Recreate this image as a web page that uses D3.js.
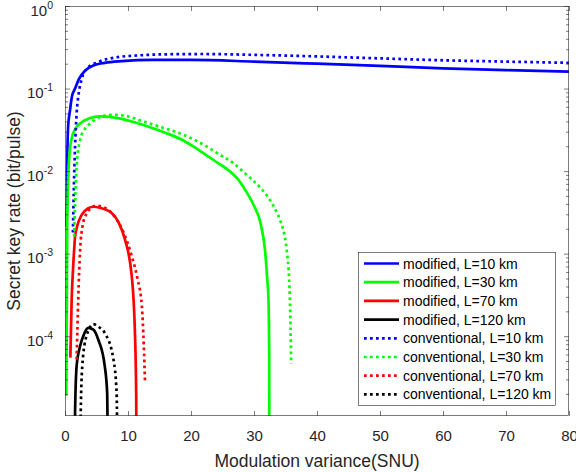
<!DOCTYPE html>
<html>
<head>
<meta charset="utf-8">
<script src="https://cdn.jsdelivr.net/npm/d3@7"></script>
<style>
  body { margin: 0; background: #fff; }
  svg { display: block; }
  text { font-family: "Liberation Sans", Arial, Helvetica, sans-serif; }
</style>
</head>
<body>
<svg id="chart" width="576" height="472"></svg>
<script>
// Secret key rate vs. modulation variance, modified and conventional schemes.
// Values in bit/pulse; each curve is a list of (variance, rate) points.
const varMod10  = [0.27, 0.35, 0.5, 0.8, 1.1, 1.6, 2.2, 3.2, 4.5, 6.3, 9, 14, 20, 30, 40, 50, 60, 70, 80];
const rateMod10 = [2.1e-3, 0.012, 0.035, 0.055, 0.08, 0.1, 0.13, 0.165, 0.19, 0.205, 0.215, 0.222, 0.222, 0.212, 0.2, 0.188, 0.176, 0.167, 0.16];

const varMod30  = [0.2, 0.28, 0.35, 0.45, 0.6, 0.8, 1.06, 1.6, 2.65, 4, 5.5, 7, 9, 11, 13.5, 16, 18.8, 21, 24.1, 26.2, 27.3, 28.8, 30, 31, 31.75, 32.1, 32.3, 32.42, 32.45];
const rateMod30 = [1.9e-5, 2e-4, 2e-3, 6e-3, 0.012, 0.019, 0.025, 0.032, 0.039, 0.044, 0.046, 0.0455, 0.043, 0.039, 0.034, 0.029, 0.0235, 0.0185, 0.0128, 0.0099, 0.0082, 0.0056, 0.0038, 0.0024, 0.0011, 5e-4, 2.8e-4, 5e-5, 1e-6];

const varMod70  = [0.85, 1.06, 1.3, 1.6, 1.9, 2.65, 3.7, 4.5, 5.5, 7.4, 8.5, 9.5, 10.6, 11.1, 11.3, 11.4];
const rateMod70 = [5.5e-5, 2.8e-4, 7e-4, 1.6e-3, 2.1e-3, 2.95e-3, 3.55e-3, 3.7e-3, 3.6e-3, 3.1e-3, 2.4e-3, 1.5e-3, 5.3e-4, 1.1e-4, 2e-5, 1e-6];

const varMod120  = [1.55, 1.6, 1.85, 2.4, 3, 3.7, 4.5, 5.3, 6.3, 6.7, 6.9];
const rateMod120 = [1e-6, 1.2e-5, 4.4e-5, 7.6e-5, 1.05e-4, 1.26e-4, 1.2e-4, 9e-5, 4.4e-5, 2e-5, 1e-6];

const varConv10  = [1.25, 1.4, 1.6, 1.85, 2.2, 2.65, 3.5, 5.3, 8, 11.6, 16, 22, 30, 40, 50, 60, 70, 80];
const rateConv10 = [1.8e-3, 6e-3, 0.02, 0.05, 0.09, 0.13, 0.175, 0.21, 0.238, 0.252, 0.26, 0.262, 0.256, 0.245, 0.232, 0.22, 0.212, 0.205];

const varConv30  = [1.45, 1.6, 1.85, 2.4, 3, 3.7, 5, 6.3, 8, 10, 12, 14.3, 18.8, 22.2, 24.1, 26.7, 28.5, 31, 32.5, 33.5, 34.1, 35.2, 35.7, 35.9];
const rateConv30 = [1.6e-3, 4e-3, 0.0115, 0.024, 0.031, 0.036, 0.043, 0.047, 0.048, 0.046, 0.041, 0.036, 0.0275, 0.0205, 0.0166, 0.0125, 0.0095, 0.0063, 0.0045, 0.0033, 0.0026, 0.0011, 2.8e-4, 4.6e-5];

const varConv70  = [1.85, 2.1, 2.4, 2.8, 3.2, 4, 5, 6.3, 7.9, 9.3, 10.6, 11.5, 12.2, 12.5, 12.7];
const rateConv70 = [5.2e-5, 2.8e-4, 1.1e-3, 2.2e-3, 2.8e-3, 3.5e-3, 3.8e-3, 3.6e-3, 2.8e-3, 1.8e-3, 9.3e-4, 5e-4, 2.3e-4, 8e-5, 2.75e-5];

const varConv120  = [2.45, 2.5, 2.75, 3.4, 4.5, 5.3, 6.3, 7.7, 8.2, 8.35];
const rateConv120 = [1e-6, 1.2e-5, 4.4e-5, 1e-4, 1.4e-4, 1.3e-4, 1.1e-4, 5.2e-5, 2e-5, 1e-6];

const seriesLabels = [
  "modified, L=10 km", "modified, L=30 km", "modified, L=70 km", "modified, L=120 km",
  "conventional, L=10 km", "conventional, L=30 km", "conventional, L=70 km", "conventional, L=120 km"
];

const xTicks = [0, 10, 20, 30, 40, 50, 60, 70, 80];
const yTickExponents = [0, -1, -2, -3, -4];
const xLabel = "Modulation variance(SNU)";
const yLabel = "Secret key rate (bit/pulse)";

// ---- build series ----
const zip = (xs, ys) => xs.map((v, i) => ({ v, r: ys[i] }));
const seriesData = [
  zip(varMod10, rateMod10), zip(varMod30, rateMod30), zip(varMod70, rateMod70), zip(varMod120, rateMod120),
  zip(varConv10, rateConv10), zip(varConv30, rateConv30), zip(varConv70, rateConv70), zip(varConv120, rateConv120)
];
const colors = ["#0000ff", "#00ff00", "#ff0000", "#000000", "#0000ff", "#00ff00", "#ff0000", "#000000"];
const dotted = [false, false, false, false, true, true, true, true];

// ---- layout ----
const plot = { left: 65, right: 569, top: 6, bottom: 416 };
const axisColor = "#262626";
const frameW = 0.6;
const lineW = 2.7;

const x = d3.scaleLinear().domain([0, 80]).range([plot.left, plot.right]);
const y = d3.scaleLog().domain([1.08e-5, 1]).range([plot.bottom, plot.top]);

const svg = d3.select("#chart");

svg.append("defs").append("clipPath").attr("id", "plotClip")
  .append("rect")
  .attr("x", plot.left).attr("y", plot.top)
  .attr("width", plot.right - plot.left).attr("height", plot.bottom - plot.top);

// ---- curves ----
const line = d3.line()
  .x(d => x(d.v))
  .y(d => y(d.r))
  .curve(d3.curveMonotoneX);

const curves = svg.append("g").attr("clip-path", "url(#plotClip)");
seriesData.forEach((data, i) => {
  curves.append("path")
    .datum(data)
    .attr("d", line)
    .attr("fill", "none")
    .attr("stroke", colors[i])
    .attr("stroke-width", lineW)
    .attr("stroke-linejoin", "round")
    .attr("stroke-dasharray", dotted[i] ? "2.7,3.3" : null);
});

// ---- axes ----
const minorTicks = [];
for (let e = -5; e < 0; e++) {
  for (let m = 2; m <= 9; m++) {
    const v = m * Math.pow(10, e);
    if (v >= y.domain()[0] && v <= 1) minorTicks.push(v);
  }
}
const majorY = yTickExponents.map(e => Math.pow(10, e));

function styleAxis(g) {
  g.select(".domain").remove();
  g.selectAll(".tick line").attr("stroke", axisColor).attr("stroke-width", frameW);
  g.selectAll("text").attr("fill", axisColor);
}

// bottom (labelled)
svg.append("g")
  .attr("transform", `translate(0,${plot.bottom})`)
  .call(d3.axisBottom(x).tickValues(xTicks).tickSize(-5).tickPadding(14).tickFormat(d3.format("d")))
  .call(styleAxis)
  .call(g => g.selectAll("text").attr("font-size", 15).attr("font-family", "Liberation Sans, Arial, sans-serif"));

// top (ticks only)
svg.append("g")
  .attr("transform", `translate(0,${plot.top})`)
  .call(d3.axisTop(x).tickValues(xTicks).tickSize(-5).tickFormat(""))
  .call(styleAxis);

// left major (labelled with powers of ten)
const leftAxis = svg.append("g")
  .attr("transform", `translate(${plot.left},0)`)
  .call(d3.axisLeft(y).tickValues(majorY).tickSize(-5).tickFormat(""))
  .call(styleAxis);

leftAxis.selectAll(".tick").each(function (d) {
  const t = d3.select(this).select("text");
  const exp = Math.round(Math.log10(d));
  t.text(null)
    .attr("x", -12)
    .attr("dy", null)
    .attr("y", 9)
    .attr("font-size", 15)
    .attr("text-anchor", "end")
    .attr("fill", axisColor);
  t.append("tspan").text("10");
  t.append("tspan").attr("font-size", 10.5).attr("dy", -7).text(String(exp));
});

// left minor
svg.append("g")
  .attr("transform", `translate(${plot.left},0)`)
  .call(d3.axisLeft(y).tickValues(minorTicks).tickSize(-3).tickFormat(""))
  .call(styleAxis);

// right major / minor
svg.append("g")
  .attr("transform", `translate(${plot.right},0)`)
  .call(d3.axisRight(y).tickValues(majorY).tickSize(-5).tickFormat(""))
  .call(styleAxis);
svg.append("g")
  .attr("transform", `translate(${plot.right},0)`)
  .call(d3.axisRight(y).tickValues(minorTicks).tickSize(-3).tickFormat(""))
  .call(styleAxis);

// frame
svg.append("rect")
  .attr("x", plot.left + 0.5).attr("y", plot.top + 0.5)
  .attr("width", plot.right - plot.left - 1).attr("height", plot.bottom - plot.top - 1)
  .attr("fill", "none").attr("stroke", axisColor).attr("stroke-width", frameW);

// axis labels
svg.append("text")
  .attr("x", (plot.left + plot.right) / 2).attr("y", 467)
  .attr("text-anchor", "middle").attr("font-size", 17.5).attr("fill", axisColor)
  .text(xLabel);

svg.append("text")
  .attr("transform", `translate(20,${(plot.top + plot.bottom) / 2}) rotate(-90)`)
  .attr("text-anchor", "middle").attr("font-size", 17.5).attr("fill", axisColor)
  .text(yLabel);

// ---- legend ----
const legend = { x: 358, y: 252, w: 197, h: 153, rowTop: 263.5, rowStep: 18.7 };
const lg = svg.append("g");
lg.append("rect")
  .attr("x", legend.x + 0.5).attr("y", legend.y + 0.5)
  .attr("width", legend.w).attr("height", legend.h)
  .attr("fill", "#fff").attr("stroke", axisColor).attr("stroke-width", frameW);

seriesLabels.forEach((label, i) => {
  const ry = legend.rowTop + i * legend.rowStep;
  lg.append("line")
    .attr("x1", legend.x + 6).attr("x2", legend.x + 41)
    .attr("y1", ry).attr("y2", ry)
    .attr("stroke", colors[i]).attr("stroke-width", lineW)
    .attr("stroke-dasharray", dotted[i] ? "2.7,3.3" : null);
  lg.append("text")
    .attr("x", legend.x + 45).attr("y", ry + 5)
    .attr("font-size", 14).attr("fill", "#000")
    .text(label);
});
</script>
</body>
</html>
